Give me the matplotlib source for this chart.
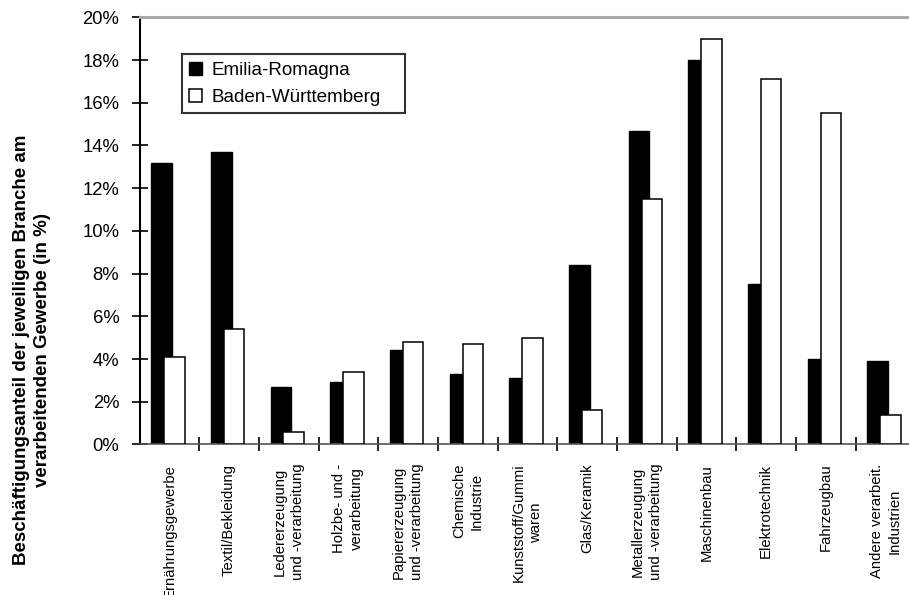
import matplotlib
matplotlib.use("Agg")
import matplotlib.pyplot as plt
from matplotlib.ticker import FixedLocator, PercentFormatter
import numpy as np

plt.rcParams["font.family"] = ["Liberation Sans", "DejaVu Sans"]

# Industry branches (x axis)
branches = [
    "Ernährungsgewerbe",
    "Textil/Bekleidung",
    "Ledererzeugung\nund -verarbeitung",
    "Holzbe- und -\nverarbeitung",
    "Papiererzeugung\nund -verarbeitung",
    "Chemische\nIndustrie",
    "Kunststoff/Gummi\nwaren",
    "Glas/Keramik",
    "Metallerzeugung\nund -verarbeitung",
    "Maschinenbau",
    "Elektrotechnik",
    "Fahrzeugbau",
    "Andere verarbeit.\nIndustrien",
]

# Employment share of each branch in manufacturing (%)
emilia_romagna = [13.2, 13.7, 2.7, 2.9, 4.4, 3.3, 3.1, 8.4, 14.7, 18.0, 7.5, 4.0, 3.9]
baden_wuerttemberg = [4.1, 5.4, 0.6, 3.4, 4.8, 4.7, 5.0, 1.6, 11.5, 19.0, 17.1, 15.5, 1.4]

series_labels = ["Emilia-Romagna", "Baden-Württemberg"]
y_ticks = [0, 2, 4, 6, 8, 10, 12, 14, 16, 18, 20]

W, H = 909, 595
fig = plt.figure(figsize=(W / 100, H / 100), dpi=100)

# plot area in pixel coordinates (right edge runs past the canvas)
left_px, right_px, top_px, bottom_px = 139.5, 915.3, 17.4, 444.4
ax = fig.add_axes([left_px / W, 1 - bottom_px / H,
                   (right_px - left_px) / W, (bottom_px - top_px) / H])

n = len(branches)
idx = np.arange(n)
bar_w = 0.345
ax.bar(idx + 0.37, emilia_romagna, width=bar_w, color="black",
       edgecolor="black", linewidth=1.0, zorder=2, label=series_labels[0])
ax.bar(idx + 0.585, baden_wuerttemberg, width=bar_w, color="white",
       edgecolor="black", linewidth=1.1, zorder=3, label=series_labels[1])

ax.set_xlim(0, n)
ax.set_ylim(0, 20)

# y axis
ax.yaxis.set_major_locator(FixedLocator(y_ticks))
ax.yaxis.set_major_formatter(PercentFormatter(decimals=0))
ax.tick_params(axis="y", which="major", direction="inout", length=11,
               width=1.2, labelsize=13.3, pad=9, colors="black")

# x axis: labels at category centres, tick marks at category borders
ax.xaxis.set_major_locator(FixedLocator(idx + 0.5))
ax.set_xticklabels(branches, rotation=90, ha="center", va="top",
                   fontsize=10.7, linespacing=1.35, multialignment="center")
ax.xaxis.set_minor_locator(FixedLocator(np.arange(1, n + 1)))
ax.tick_params(axis="x", which="major", length=0, pad=14)
ax.tick_params(axis="x", which="minor", direction="inout", length=10,
               width=1.2, colors="black")

ax.spines["right"].set_visible(False)
ax.spines["left"].set_linewidth(1.5)
ax.spines["left"].set_color("black")
ax.spines["top"].set_color("#a6a6a6")
ax.spines["top"].set_linewidth(2.2)
ax.spines["bottom"].set_color("#555555")
ax.spines["bottom"].set_linewidth(1.2)

# y axis title
fig.text(32 / W, 1 - 350 / H,
         "Beschäftigungsanteil der jeweiligen Branche am\nverarbeitenden Gewerbe (in %)",
         rotation=90, ha="center", va="center", fontsize=13.5,
         fontweight="bold", linespacing=1.35, multialignment="center")

# legend box spanning a fixed width
lx0, lx1, ly0, ly1 = 181.7, 405.0, 54.3, 115.0
leg = ax.legend(loc="upper left",
                bbox_to_anchor=(lx0 / W, 1 - ly1 / H, (lx1 - lx0) / W, (ly1 - ly0) / H),
                bbox_transform=fig.transFigure, borderaxespad=0, mode="expand",
                fontsize=13.6, frameon=True, fancybox=False,
                handlelength=0.7, handleheight=0.7, handletextpad=0.5,
                borderpad=0.4, labelspacing=0.5)
leg.get_frame().set_edgecolor("black")
leg.get_frame().set_linewidth(1.5)

fig.savefig("out.png", dpi=100)
